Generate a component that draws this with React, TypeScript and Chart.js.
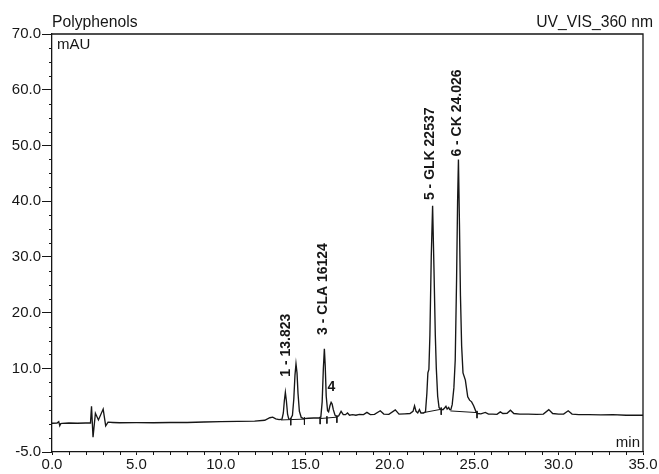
import React, { useEffect, useRef } from "react";
import { Chart, registerables } from "chart.js";

Chart.register(...registerables);

// ---- Data ----
const traceTime = [
  0.0, 0.3, 0.4, 0.46, 0.52, 0.6, 1.0, 1.5, 2.0, 2.28, 2.34, 2.43, 2.57, 2.75, 3.03, 3.18, 3.32, 3.6, 4.0, 5.0,
  6.0, 7.0, 8.0, 9.0, 10.0, 11.0, 12.0, 12.6, 12.9, 13.07, 13.25, 13.45, 13.62, 13.7, 13.76, 13.82, 13.88, 13.95,
  14.02, 14.12, 14.24, 14.32, 14.39, 14.45, 14.51, 14.57, 14.65, 14.76, 14.9, 15.2, 15.5, 15.8, 15.92, 16.0, 16.07,
  16.13, 16.18, 16.24, 16.32, 16.38, 16.46, 16.53, 16.59, 16.66, 16.76, 16.87, 16.98, 17.12, 17.25, 17.38, 17.5,
  17.62, 17.8, 18.0, 18.2, 18.45, 18.65, 18.85, 19.1, 19.44, 19.65, 19.95, 20.33, 20.55, 20.9, 21.2, 21.38, 21.47,
  21.56, 21.66, 21.76, 21.85, 22.0, 22.12, 22.2, 22.26, 22.32, 22.38, 22.46, 22.54, 22.62, 22.7, 22.76, 22.84,
  22.92, 23.0, 23.15, 23.25, 23.33, 23.4, 23.49, 23.55, 23.62, 23.7, 23.8, 23.88, 23.96, 24.02, 24.07, 24.13,
  24.19, 24.26, 24.34, 24.48, 24.62, 24.73, 24.85, 24.97, 25.1, 25.2, 25.4, 25.66, 25.85, 26.1, 26.35, 26.55, 26.7,
  26.95, 27.15, 27.35, 27.7, 28.2, 28.7, 29.1, 29.42, 29.65, 30.0, 30.3, 30.57, 30.8, 31.2, 31.8, 32.5, 33.2, 34.0,
  35.0,
];
const traceMAU = [
  0.15, 0.2, 0.45, -0.3, 0.1, 0.15, 0.2, 0.15, 0.2, 0.2, 3.2, -2.35, 1.95, 0.75, 2.7, -0.3, 0.35, 0.3, 0.25, 0.27,
  0.25, 0.3, 0.3, 0.38, 0.45, 0.5, 0.55, 0.7, 1.15, 1.25, 0.95, 0.8, 0.9, 2.0, 4.2, 5.7, 4.2, 1.8,
  0.95, 0.9, 1.6, 4.5, 8.8, 10.8, 9.2, 5.5, 2.3, 1.2, 1.0, 1.05, 1.1, 1.1, 1.25, 4.0, 10.0,
  13.5, 10.5, 5.0, 2.4, 2.2, 3.3, 3.9, 3.6, 2.6, 1.6, 1.3, 1.5, 2.3, 1.7, 1.7, 2.0,
  1.6, 1.7, 1.6, 1.75, 1.7, 2.1, 1.7, 1.75, 2.4, 1.8, 1.75, 2.55, 1.8, 1.85, 1.9, 2.3, 3.3,
  2.3, 2.0, 2.6, 2.0, 2.0, 2.2, 5.5, 9.2, 9.8, 16, 30, 39.2, 28, 16, 10, 5,
  3.0, 2.7, 2.6, 2.9, 3.2, 2.7, 3.0, 2.6, 2.6, 3.5, 6.5, 11.5, 26, 40, 47.5, 36,
  23, 14, 9.2, 7.9, 4.9, 4.3, 4.0, 3.3, 2.3, 1.9, 1.85, 2.1, 1.8, 1.8, 1.75, 2.2, 1.9,
  1.95, 2.5, 1.9, 1.8, 1.8, 1.75, 1.8, 2.6, 1.9, 1.8, 1.8, 2.4, 1.8, 1.7, 1.7, 1.65, 1.7, 1.6,
  1.6,
];

// Integration baselines (start/end of each drawn baseline segment)
const integStartTime = [13.55, 15.88, 22.0, 23.59];
const integStartMAU = [0.75, 1.0, 2.07, 2.37];
const integEndTime = [14.95, 16.87, 23.05, 25.17];
const integEndMAU = [0.9, 1.25, 2.67, 2.07];

// Peak delimiter marks
const delimiterTime = [14.14, 14.95, 15.88, 16.28, 16.87, 23.05, 25.17];
const delimiterMAU = [0.8, 0.9, 1.0, 1.1, 1.25, 2.67, 2.07];

// Peak annotations
const peakLabels = ["1 - 13.823", "3 - CLA 16124", "5 - GLK 22537", "6 - CK 24.026"];
const peakLabelTime = [13.84, 16.07, 22.37, 23.99];
const peakLabelMAU = [8.5, 16.0, 40.2, 48.0];
const smallLabel = "4";
const smallLabelTime = 16.31;
const smallLabelMAU = 6.7;

// Axes
const xMajorTicks = [0, 5, 10, 15, 20, 25, 30, 35];
const xMinorTicks = [
  1, 2, 3, 4, 6, 7, 8, 9, 11, 12, 13, 14, 16, 17, 18, 19, 21, 22, 23, 24, 26, 27, 28, 29, 31, 32, 33, 34,
];
const yMajorTicks = [-5, 10, 20, 30, 40, 50, 60, 70];
const yMinorTicks = [
  -2.5, 0, 2.5, 5, 7.5, 12.5, 15, 17.5, 22.5, 25, 27.5, 32.5, 35, 37.5, 42.5, 45, 47.5, 52.5, 55, 57.5, 62.5,
  65, 67.5,
];

const chartTitle = "Polyphenols";
const channelTitle = "UV_VIS_360 nm";
const yUnit = "mAU";
const xUnit = "min";

const FONT = '"Liberation Sans", Arial, Helvetica, sans-serif';
const INK = "#161616";

const decorPlugin = {
  id: "decor",
  afterDraw(chart: any) {
    const ctx = chart.ctx;
    const { left, right, top, bottom } = chart.chartArea;
    const xs = chart.scales.x;
    const ys = chart.scales.y;
    ctx.save();
    ctx.strokeStyle = INK;
    // frame top and right
    ctx.lineWidth = 1.3;
    ctx.beginPath();
    ctx.moveTo(left, top);
    ctx.lineTo(right, top);
    ctx.lineTo(right, bottom);
    ctx.stroke();
    // minor ticks
    ctx.lineWidth = 1;
    ctx.beginPath();
    xMinorTicks.forEach((v) => {
      const px = Math.round(xs.getPixelForValue(v)) + 0.5;
      ctx.moveTo(px, bottom);
      ctx.lineTo(px, bottom + 3);
    });
    yMinorTicks.forEach((v) => {
      const py = Math.round(ys.getPixelForValue(v)) + 0.5;
      ctx.moveTo(left, py);
      ctx.lineTo(left - 3, py);
    });
    ctx.stroke();

    // titles
    ctx.fillStyle = INK;
    ctx.font = `15.7px ${FONT}`;
    ctx.textBaseline = "alphabetic";
    ctx.textAlign = "left";
    ctx.fillText(chartTitle, left, 27);
    ctx.textAlign = "right";
    ctx.fillText(channelTitle, right + 10, 27);
    ctx.font = `15px ${FONT}`;
    ctx.textAlign = "left";
    ctx.fillText(yUnit, left + 5, 49);
    ctx.textAlign = "right";
    ctx.fillText(xUnit, right - 3, 447);

    // peak labels (rotated)
    ctx.font = `bold 14px ${FONT}`;
    peakLabels.forEach((lab, i) => {
      const px = xs.getPixelForValue(peakLabelTime[i]);
      const py = ys.getPixelForValue(peakLabelMAU[i]);
      ctx.save();
      ctx.translate(px, py);
      ctx.rotate(-Math.PI / 2);
      ctx.textAlign = "left";
      ctx.textBaseline = "middle";
      ctx.fillText(lab, 0, 0);
      ctx.restore();
    });
    ctx.textAlign = "left";
    ctx.textBaseline = "middle";
    ctx.fillText(smallLabel, xs.getPixelForValue(smallLabelTime), ys.getPixelForValue(smallLabelMAU));
    ctx.restore();
  },
};

export default function App() {
  const ref = useRef<HTMLCanvasElement | null>(null);
  useEffect(() => {
    if (!ref.current) return;
    const trace = traceTime.map((t, i) => ({ x: t, y: traceMAU[i] }));
    const baselines: any[] = [];
    integStartTime.forEach((s, i) => {
      baselines.push({ x: s, y: integStartMAU[i] });
      baselines.push({ x: integEndTime[i], y: integEndMAU[i] });
      baselines.push({ x: integEndTime[i], y: null });
    });
    const delims: any[] = [];
    delimiterTime.forEach((t, i) => {
      delims.push({ x: t, y: delimiterMAU[i] + 0.3 });
      delims.push({ x: t, y: delimiterMAU[i] - 1.0 });
      delims.push({ x: t, y: null });
    });

    const chart = new Chart(ref.current, {
      type: "line",
      data: {
        datasets: [
          {
            data: trace,
            borderColor: INK,
            borderWidth: 1.35,
            pointRadius: 0,
            tension: 0,
            fill: false,
          },
          {
            data: baselines,
            borderColor: INK,
            borderWidth: 1,
            pointRadius: 0,
            tension: 0,
            spanGaps: false,
          },
          {
            data: delims,
            borderColor: INK,
            borderWidth: 1,
            pointRadius: 0,
            tension: 0,
            spanGaps: false,
          },
        ],
      },
      options: {
        animation: false,
        responsive: false,
        events: [],
        layout: { padding: { top: 34, right: 16, left: 0, bottom: 0 } },
        plugins: { legend: { display: false }, tooltip: { enabled: false }, title: { display: false } },
        scales: {
          x: {
            type: "linear",
            min: 0,
            max: 35,
            afterBuildTicks: (scale: any) => {
              scale.ticks = xMajorTicks.map((v) => ({ value: v }));
            },
            afterFit: (scale: any) => {
              scale.height = 22;
            },
            ticks: {
              callback: (v: any) => Number(v).toFixed(1),
              font: { size: 15, family: FONT },
              color: INK,
              padding: 1,
              maxRotation: 0,
              autoSkip: false,
            },
            grid: { drawOnChartArea: false, tickLength: 3, tickColor: INK, tickWidth: 1 },
            border: { display: true, color: INK, width: 1.3 },
          },
          y: {
            type: "linear",
            min: -5,
            max: 70,
            afterBuildTicks: (scale: any) => {
              scale.ticks = yMajorTicks.map((v) => ({ value: v }));
            },
            afterFit: (scale: any) => {
              scale.width = 52;
            },
            ticks: {
              callback: (v: any) => Number(v).toFixed(1),
              font: { size: 15, family: FONT },
              color: INK,
              padding: 1,
              autoSkip: false,
            },
            grid: { drawOnChartArea: false, tickLength: 10, tickColor: INK, tickWidth: 1 },
            border: { display: true, color: INK, width: 1.3 },
          },
        },
      },
      plugins: [decorPlugin],
    });
    return () => chart.destroy();
  }, []);

  return (
    <div style={{ position: "fixed", left: 0, top: 0, width: 659, height: 474, background: "#fff" }}>
      <canvas ref={ref} width={659} height={474} style={{ display: "block" }} />
    </div>
  );
}
